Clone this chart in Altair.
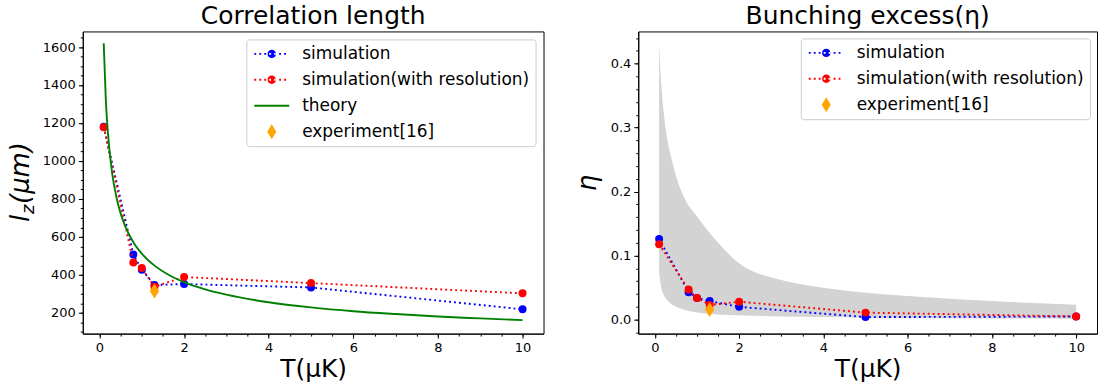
import altair as alt
import pandas as pd

# ---- data -------------------------------------------------------------
# simulation temperatures (μK)
T_SIM = [0.1, 0.8, 1.0, 1.3, 2.0, 5.0, 10.0]
# correlation length l_z (μm)
LZ_SIM = [1180, 508, 427, 347, 352, 334, 219]
LZ_RES = [1178, 466, 436, 338, 389, 357, 303]
# bunching excess η
ETA_SIM = [0.126, 0.043, 0.034, 0.029, 0.020, 0.004, 0.005]
ETA_RES = [0.118, 0.047, 0.034, 0.023, 0.028, 0.011, 0.005]
# experiment [16]
T_EXP = [1.3]
LZ_EXP = [315]
ETA_EXP = [0.016]
# theory curve for l_z
T_THEORY = [0.1, 0.15, 0.2, 0.3, 0.4, 0.5, 0.6, 0.8, 1.0, 1.3, 1.6, 2.0,
            2.5, 3.0, 4.0, 5.0, 6.0, 7.0, 8.0, 9.0, 10.0]
LZ_THEORY = [1620, 1320, 1145, 935, 810, 724, 661, 572, 512, 449, 405, 362,
             324, 296, 256, 229, 209, 194, 181, 171, 162]
# theoretical band for η
T_BAND = [0.1, 0.15, 0.2, 0.3, 0.4, 0.5, 0.7, 1.0, 1.5, 2.0, 3.0, 4.0,
          5.0, 6.0, 8.0, 10.0]
ETA_BAND_HI = [0.431, 0.37, 0.33, 0.28, 0.25, 0.225, 0.19, 0.161, 0.12,
               0.088, 0.062, 0.050, 0.042, 0.037, 0.029, 0.0234]
ETA_BAND_LO = [0.075, 0.05, 0.04, 0.03, 0.024, 0.02, 0.015, 0.011, 0.008,
               0.007, 0.005, 0.004, 0.003, 0.0025, 0.002, 0.0015]

X_TICKS = [0, 2, 4, 6, 8, 10]
X_MINOR = [v / 2 for v in range(0, 21)]
LZ_TICKS = [200, 400, 600, 800, 1000, 1200, 1400, 1600]
LZ_MINOR = list(range(100, 1701, 50))
ETA_TICKS = [0.0, 0.1, 0.2, 0.3, 0.4]
ETA_MINOR = [round(v * 0.02, 2) for v in range(-1, 23)]

NAMES_L = ["simulation", "simulation(with resolution)", "theory", "experiment[16]"]
NAMES_R = ["simulation", "simulation(with resolution)", "experiment[16]"]

BLUE, RED, GREEN, ORANGE, GREY = "#0000ff", "#ff0000", "#008000", "#ffa500", "#d3d3d3"
FONT = "DejaVu Sans"
W_L, W_R, H = 462, 460, 303
X_DOM = [-0.395, 10.495]
LZ_DOM = [91, 1682]
ETA_DOM = [-0.0218, 0.4503]

LW = 1.9
DOTS = [1.9, 3.1]
MS = 64


# ---- legend glyphs (unit = sqrt(symbolSize)/2 px) ----------------------
def dotted_marker_path(half=2.92, dot=0.32, period=0.83, r=0.7):
    parts = []
    x = -half
    while x + dot <= half + 1e-6:
        parts.append(f"M{x:.3f},-0.16H{x + dot:.3f}V0.16H{x:.3f}Z")
        x += period
    parts.append(f"M{-r},0A{r},{r} 0 1,0 {r},0A{r},{r} 0 1,0 {-r},0Z")
    return "".join(parts)


SIM_GLYPH = dotted_marker_path()
LINE_GLYPH = "M-2.92,-0.16H2.92V0.16H-2.92Z"
DIAMOND_GLYPH = "M0,-1.25L0.75,0L0,1.25L-0.75,0Z"
DIAMOND = "M0,-1L0.62,0L0,1L-0.62,0Z"


def xs(axis=None):
    return alt.X("T:Q", scale=alt.Scale(domain=X_DOM, nice=False, zero=False), axis=axis)


def ys(dom, field="v", axis=None):
    return alt.Y(f"{field}:Q", scale=alt.Scale(domain=dom, nice=False, zero=False), axis=axis)


def axis_layers(ydom, yvals, yminor, yfmt, ytitle):
    dummy = pd.DataFrame({"T": [X_DOM[0]], "v": [ydom[0]]})
    xmaj = alt.Axis(values=X_TICKS, title="T(μK)", grid=False, orient="bottom",
                    labelFontSize=13, titleFontSize=25, titleFontWeight="normal",
                    tickSize=4.5, labelPadding=3, titlePadding=3, format="d")
    xmin = alt.Axis(values=X_MINOR, labels=False, title=None, grid=False,
                    orient="bottom", tickSize=2.5, domain=False)
    ymaj = alt.Axis(values=yvals, title=ytitle, grid=False, orient="left",
                    labelFontSize=13, tickSize=4.5, labelPadding=3, format=yfmt,
                    titleFontSize=26, titleFontStyle="italic", titleFontWeight="normal",
                    titlePadding=10)
    ymin = alt.Axis(values=yminor, labels=False, title=None, grid=False,
                    orient="left", tickSize=2.5, domain=False)
    maj = alt.Chart(dummy).mark_point(opacity=0).encode(x=xs(xmaj), y=ys(ydom, axis=ymaj))
    mnr = alt.Chart(dummy).mark_point(opacity=0).encode(x=xs(xmin), y=ys(ydom, axis=ymin))
    return [maj, mnr]


def series_layers(T, Y, color, ydom):
    base = alt.Chart(pd.DataFrame({"T": T, "v": Y})).encode(x=xs(), y=ys(ydom))
    line = base.mark_line(color=color, strokeWidth=LW, strokeDash=DOTS, clip=True)
    pts = base.mark_point(filled=True, color=color, size=MS, opacity=1, clip=True)
    return [line, pts]


def legend_layer(names, shapes, colors, ydom, offset):
    n = len(names)
    df = pd.DataFrame({"series": names, "T": [None] * n, "v": [None] * n})
    leg = alt.Legend(title=None, orient="top-right", offset=offset,
                     symbolSize=144, symbolStrokeWidth=0,
                     symbolOffset=11, labelOffset=22,
                     labelFontSize=17, labelFont=FONT,
                     labelLimit=400, rowPadding=8, padding=6,
                     fillColor="white", strokeColor="#cccccc",
                     cornerRadius=3)
    return alt.Chart(df).mark_point(filled=True, opacity=1).encode(
        x=xs(), y=ys(ydom),
        color=alt.Color("series:N", scale=alt.Scale(domain=names, range=colors), legend=leg),
        shape=alt.Shape("series:N", scale=alt.Scale(domain=names, range=shapes), legend=leg),
    )


# ---- left panel: correlation length -----------------------------------
left_layers = axis_layers(LZ_DOM, LZ_TICKS, LZ_MINOR, "d", None)
left_layers += series_layers(T_SIM, LZ_SIM, BLUE, LZ_DOM)
left_layers += series_layers(T_SIM, LZ_RES, RED, LZ_DOM)
theory = alt.Chart(pd.DataFrame({"T": T_THEORY, "v": LZ_THEORY})).mark_line(
    color=GREEN, strokeWidth=LW, interpolate="monotone", clip=True
).encode(x=xs(), y=ys(LZ_DOM))
exp_l = alt.Chart(pd.DataFrame({"T": T_EXP, "v": LZ_EXP})).mark_point(
    filled=True, color=ORANGE, shape=DIAMOND, size=225, opacity=1
).encode(x=xs(), y=ys(LZ_DOM))
left_layers += [theory, exp_l]
left_layers.append(legend_layer(NAMES_L, [SIM_GLYPH, SIM_GLYPH, LINE_GLYPH, DIAMOND_GLYPH],
                                [BLUE, RED, GREEN, ORANGE], LZ_DOM, 8))

# y-axis title l_z(μm) with a subscript
one = pd.DataFrame({"k": [0]})
left_layers += [
    alt.Chart(one).mark_text(text="l", angle=270, align="left", baseline="alphabetic",
                             fontSize=26, fontStyle="italic", font=FONT).encode(
        x=alt.value(-54), y=alt.value(191)),
    alt.Chart(one).mark_text(text="z", angle=270, align="left", baseline="alphabetic",
                             fontSize=18, fontStyle="italic", font=FONT).encode(
        x=alt.value(-49), y=alt.value(183)),
    alt.Chart(one).mark_text(text="(μm)", angle=270, align="left", baseline="alphabetic",
                             fontSize=26, fontStyle="italic", font=FONT).encode(
        x=alt.value(-54), y=alt.value(173)),
]

left = alt.layer(*left_layers).resolve_axis(x="independent", y="independent").properties(
    width=W_L, height=H,
    title=alt.TitleParams("Correlation length", fontSize=25, font=FONT,
                          fontWeight="normal", anchor="middle", offset=2),
)

# ---- right panel: bunching excess -------------------------------------
right_layers = axis_layers(ETA_DOM, ETA_TICKS, ETA_MINOR, ".1f", "η")
band = alt.Chart(pd.DataFrame({"T": T_BAND, "hi": ETA_BAND_HI, "lo": ETA_BAND_LO})).mark_area(
    color=GREY, opacity=1, interpolate="monotone"
).encode(x=xs(), y=ys(ETA_DOM, "hi"), y2="lo:Q")
right_layers.append(band)
right_layers += series_layers(T_SIM, ETA_SIM, BLUE, ETA_DOM)
right_layers += series_layers(T_SIM, ETA_RES, RED, ETA_DOM)
exp_r = alt.Chart(pd.DataFrame({"T": T_EXP, "v": ETA_EXP})).mark_point(
    filled=True, color=ORANGE, shape=DIAMOND, size=225, opacity=1
).encode(x=xs(), y=ys(ETA_DOM))
right_layers.append(exp_r)
right_layers.append(legend_layer(NAMES_R, [SIM_GLYPH, SIM_GLYPH, DIAMOND_GLYPH],
                                 [BLUE, RED, ORANGE], ETA_DOM, 7))

right = alt.layer(*right_layers).resolve_axis(x="independent", y="independent").properties(
    width=W_R, height=H,
    title=alt.TitleParams("Bunching excess(η)", fontSize=25, font=FONT,
                          fontWeight="normal", anchor="middle", offset=2),
)

chart = alt.hconcat(left, right, spacing=29).resolve_scale(
    color="independent", shape="independent"
).properties(
    padding={"left": 7, "top": 3, "right": 4, "bottom": 4},
    background="white",
).configure(font=FONT).configure_view(
    stroke="black", strokeWidth=1
).configure_axis(
    domainColor="black", tickColor="black", labelColor="black", titleColor="black",
    labelFont=FONT, titleFont=FONT, domainWidth=1, tickWidth=1,
)

chart.save("out.html", embed_options={"renderer": "svg", "actions": False})
